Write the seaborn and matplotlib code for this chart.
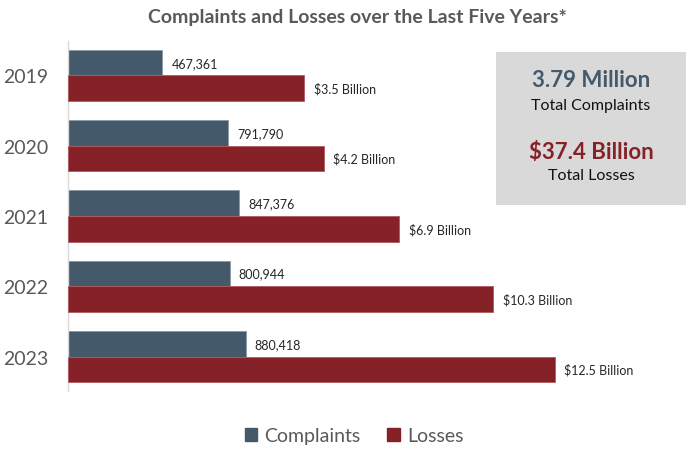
import numpy as np
import pandas as pd
import matplotlib.pyplot as plt
import seaborn as sns
from matplotlib.patches import Patch, Rectangle

years = ["2019", "2020", "2021", "2022", "2023"]
complaints = [467361, 791790, 847376, 800944, 880418]
losses = [3.5, 4.2, 6.9, 10.3, 12.5]  # billions
complaint_labels = ["467,361", "791,790", "847,376", "800,944", "880,418"]
loss_labels = ["$3.5 Billion", "$4.2 Billion", "$6.9 Billion", "$10.3 Billion", "$12.5 Billion"]
total_complaints = "3.79 Million"
total_losses = "$37.4 Billion"

blue = "#44596a"
red = "#862128"
grey = "#595959"

sns.set_theme(style="white")
plt.rcParams["font.family"] = ["Lato", "DejaVu Sans"]

df = pd.DataFrame({"year": years, "complaints": complaints, "losses": losses})
pos = np.arange(len(df))
h = 0.363

fig = plt.figure(figsize=(7, 4.56), dpi=100)
ax = fig.add_axes([68 / 700, 1 - 392 / 456, 622 / 700, 350 / 456])
ax2 = ax.twiny()

# complaints on their own scale, losses on a second (offset) scale
ax.barh(pos - h / 2, df["complaints"], height=h, color=blue, edgecolor="#8a99a5", linewidth=0.6)
loss_base = -5.0
ax2.barh(pos + h / 2, df["losses"] - loss_base, left=loss_base, height=h, color=red,
         edgecolor="#b05a60", linewidth=0.6)

ax.set_xlim(0, 3.08e6)
ax2.set_xlim(loss_base, loss_base + 622 / 27.8)
ax.set_ylim(4.49, -0.49)
ax2.set_ylim(4.49, -0.49)

for i, v in enumerate(df["complaints"]):
    ax.annotate(complaint_labels[i], (v, pos[i] - h / 2), xytext=(6.5, 0), textcoords="offset points",
                va="center", ha="left", fontsize=9, color="#262626")
for i, v in enumerate(df["losses"]):
    ax2.annotate(loss_labels[i], (v, pos[i] + h / 2), xytext=(7, 0), textcoords="offset points",
                 va="center", ha="left", fontsize=9, color="#262626")

ax.set_yticks(pos)
ax.set_yticklabels(df["year"], fontsize=14, color=grey)
ax.tick_params(axis="y", length=0, pad=14)
ax.set_xticks([])
ax2.set_xticks([])
for a in (ax, ax2):
    for s in ["top", "right", "bottom", "left"]:
        a.spines[s].set_visible(False)
ax.spines["left"].set_visible(True)
ax.spines["left"].set_color("#d9d9d9")
ax.spines["left"].set_linewidth(1)
ax.set_ylabel("")
ax.set_xlabel("")

fig.text(357 / 700, 1 - 18 / 456, "Complaints and Losses over the Last Five Years*", ha="center", va="center",
         fontsize=14, fontweight="bold", color=grey)

fig.add_artist(Rectangle((496 / 700, 1 - 205.7 / 456), 190 / 700, 152.4 / 456, transform=fig.transFigure,
                         facecolor="#d9d9d9", edgecolor="none", zorder=3))
fig.text(591 / 700, 1 - 80.5 / 456, total_complaints, ha="center", va="center", fontsize=16,
         fontweight="bold", color=blue, zorder=4)
fig.text(591 / 700, 1 - 106 / 456, "Total Complaints", ha="center", va="center", fontsize=11.5,
         color="#111111", zorder=4)
fig.text(591 / 700, 1 - 152.5 / 456, total_losses, ha="center", va="center", fontsize=16,
         fontweight="bold", color=red, zorder=4)
fig.text(591 / 700, 1 - 176.5 / 456, "Total Losses", ha="center", va="center", fontsize=11.5,
         color="#111111", zorder=4)

handles = [Patch(color=blue, label="Complaints"), Patch(color=red, label="Losses")]
fig.legend(handles=handles, loc="center", bbox_to_anchor=(354 / 700, 1 - 437 / 456), ncol=2, frameon=False,
           fontsize=14, handlelength=0.65, handleheight=0.65, handletextpad=0.35, columnspacing=1.4,
           labelcolor=grey)

fig.savefig("out.png", dpi=100)
